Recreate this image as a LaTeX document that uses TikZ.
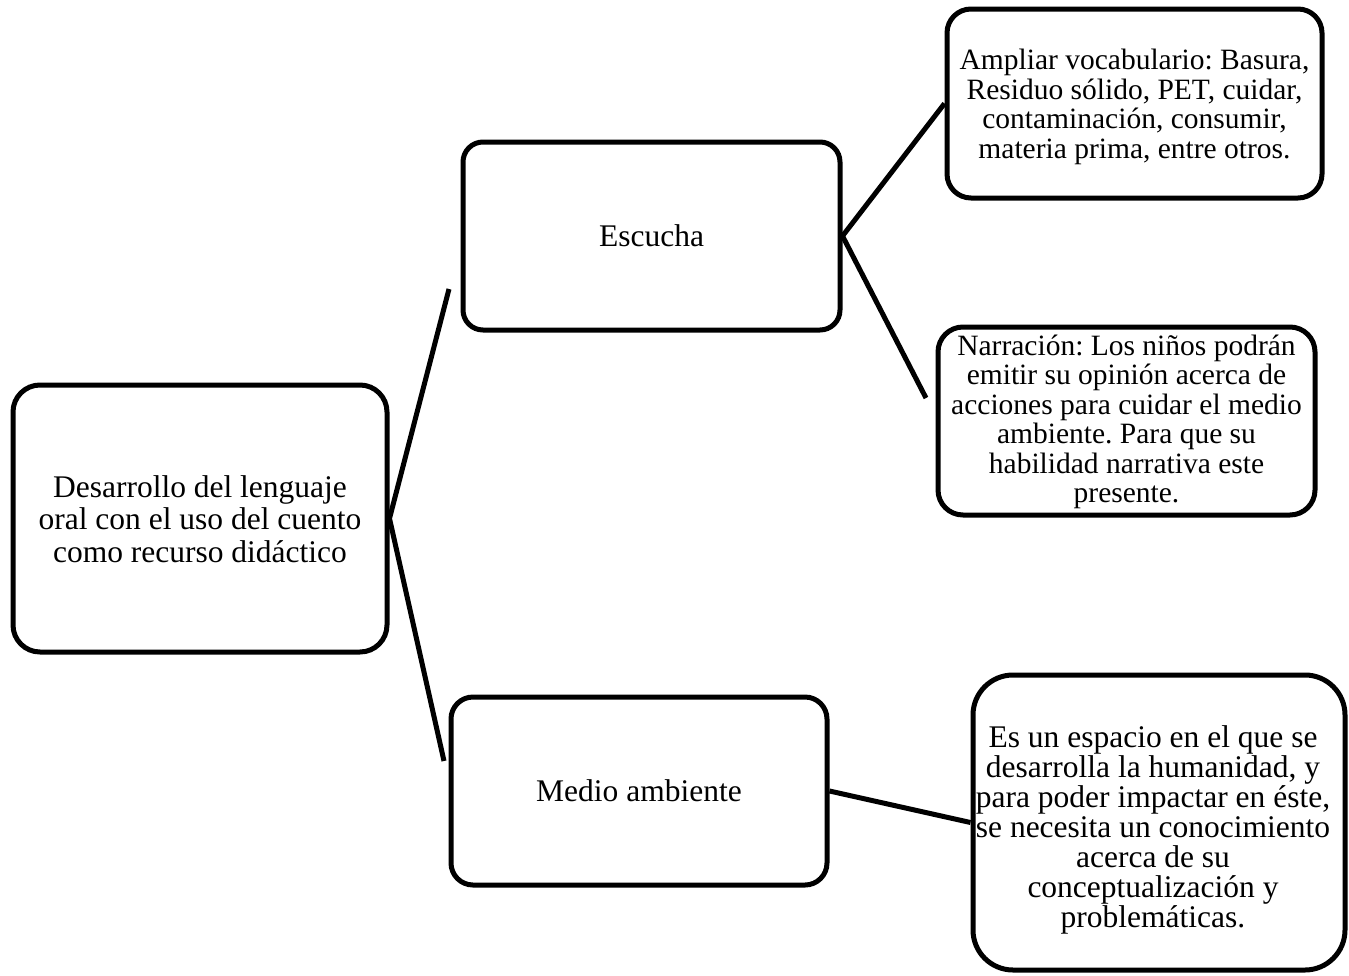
\documentclass[tikz,border=0pt]{standalone}
\usepackage{fontspec}
\setmainfont{Liberation Serif}
\frenchspacing
\begin{document}
\begin{tikzpicture}[x=1pt,y=-1pt,
  boxst/.style={draw=black,line width=5pt,rounded corners=#1,inner sep=0pt,fill=white},
  conn/.style={draw=black,line width=5pt},
  bigtxt/.style={align=center,inner sep=0pt,font={\fontsize{31.5}{32.5}\selectfont}},
  smalltxt/.style={align=center,inner sep=0pt,font={\fontsize{29.5}{29.5}\selectfont}}]
\useasboundingbox (0,0) rectangle (1349,975);
% boxes
\node[boxst=27pt,minimum width=374pt,minimum height=267pt] (left) at (200,518.5) {};
\node[boxst=20pt,minimum width=377pt,minimum height=188pt] (esc) at (651.5,236) {};
\node[boxst=22pt,minimum width=376pt,minimum height=188pt] (med) at (639,791) {};
\node[boxst=24pt,minimum width=375pt,minimum height=189pt] (amp) at (1134.5,103.5) {};
\node[boxst=25pt,minimum width=377pt,minimum height=188pt] (nar) at (1126.5,421) {};
\node[boxst=40pt,minimum width=372pt,minimum height=295pt] (es) at (1159,822.5) {};
% texts
\node[bigtxt] (tleft) at (200,519) {Desarrollo del lenguaje\\oral con el uso del cuento\\como recurso didáctico};
\node[bigtxt] (tesc) at (esc.center) {Escucha};
\node[bigtxt] (tmed) at (med.center) {Medio ambiente};
\node[smalltxt] (tamp) at (1134.5,107) {Ampliar vocabulario: Basura,\\Residuo sólido, PET, cuidar,\\contaminación, consumir,\\materia prima, entre otros.};
\node[smalltxt] (tnar) at (1126.5,422) {Narración: Los niños podrán\\emitir su opinión acerca de\\acciones para cuidar el medio\\ambiente. Para que su\\habilidad narrativa este\\presente.};
\node[bigtxt,font={\fontsize{31.5}{30}\selectfont}] (tes) at (1153,830) {Es un espacio en el que se\\desarrolla la humanidad, y\\para poder impactar en éste,\\se necesita un conocimiento\\acerca de su\\conceptualización y\\problemáticas.};
% connectors
\coordinate (upEnd) at (449,289);
\coordinate (lowEnd) at (444,761);
\coordinate (narEnd) at (926,398);
\draw[conn] (upEnd) -- (left.east) -- (lowEnd);
\draw[conn] (esc.east) -- (amp.west);
\draw[conn] (esc.east) -- (narEnd);
\draw[conn] (med.east) -- (es.west);
\end{tikzpicture}
\end{document}
